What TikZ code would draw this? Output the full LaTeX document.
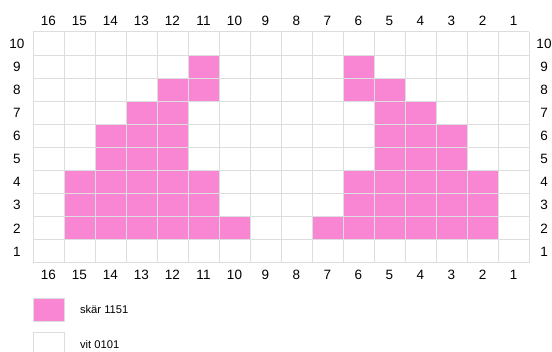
\documentclass[tikz,border=0pt]{standalone}
\usepackage{fontspec}
\setmainfont{Liberation Sans}
\definecolor{cpink}{HTML}{F986D3}
\definecolor{cgrid}{HTML}{DDDDDD}

\begin{document}
\begin{tikzpicture}[x=1pt,y=-1pt,font=\fontsize{13.5}{15}\selectfont]
  \useasboundingbox (0,0) rectangle (552,352);
  % pink stitches, row / columns
  \foreach \r/\cols in {9/{11,6},8/{12,11,6,5},7/{13,12,5,4},6/{14,13,12,5,4,3},5/{14,13,12,5,4,3},
      4/{15,14,13,12,11,6,5,4,3,2},3/{15,14,13,12,11,6,5,4,3,2},2/{15,14,13,12,11,10,7,6,5,4,3,2}} {
    \foreach \c in \cols {
      \fill[cpink] ({33+31*(16-\c)},{32+23.1*(10-\r)}) rectangle +(31,23.1);
    }
  }
  % grid
  \foreach \i in {0,...,16}
    \draw[cgrid,line width=1pt] ({33+31*\i},32) -- ({33+31*\i},263);
  \foreach \j in {0,...,10}
    \draw[cgrid,line width=1pt] (33,{32+23.1*\j}) -- (529,{32+23.1*\j});
  % numbers
  \foreach \c in {1,...,16} {
    \node (ct\c) at ({48.5+31*(16-\c)},21) {\c};
    \node (cb\c) at ({48.5+31*(16-\c)},275) {\c};
  }
  \foreach \r in {1,...,10} {
    \node (rl\r) at (17,{43.5+23.1*(10-\r)}) {\r};
    \node (rr\r) at (544,{43.5+23.1*(10-\r)}) {\r};
  }
  % legend
  \fill[cpink,draw=cgrid] (33,298) rectangle (64,321.5);
  \node[anchor=west,font=\fontsize{11.2}{13}\selectfont] (lskar) at (76.5,309.5) {skär 1151};
  \draw[cgrid] (33,332) rectangle (64,355.5);
  \node[anchor=west,font=\fontsize{11.2}{13}\selectfont] (lvit) at (76.5,344) {vit 0101};
\end{tikzpicture}
\end{document}
